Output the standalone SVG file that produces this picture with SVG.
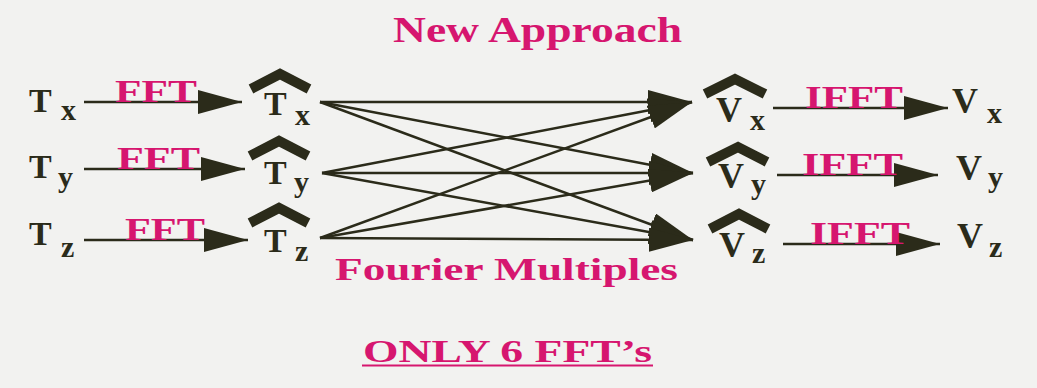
<svg xmlns="http://www.w3.org/2000/svg" width="1037" height="388" viewBox="0 0 1037 388">
<defs>
<style>
.bg{fill:#f2f2f0}
.t{font-family:"Liberation Serif","Times New Roman",serif;font-weight:bold;fill:#2b2b1a}
.big{font-size:34px}
.bigv{font-size:36px}
.sub{font-size:30px}
.pk{font-family:"Liberation Serif","Times New Roman",serif;font-weight:bold;fill:#d6166f}
.ln{stroke:#2b2b1a;stroke-width:2.5;fill:none}
.hat{stroke:#2b2b1a;stroke-width:10;fill:none;stroke-linejoin:miter;stroke-linecap:butt}
</style>
<marker id="ah" markerUnits="userSpaceOnUse" markerWidth="44" markerHeight="24" refX="44" refY="12" orient="auto">
<path d="M0,0 L44,12 L0,24 z" fill="#2b2b1a"/>
</marker>
</defs>
<rect class="bg" x="0" y="0" width="1037" height="388"/>

<g id="titles">
<text class="pk" x="393" y="42" font-size="36" textLength="289" lengthAdjust="spacingAndGlyphs">New Approach</text>
<text class="pk" x="335" y="280" font-size="32" textLength="343" lengthAdjust="spacingAndGlyphs">Fourier Multiples</text>
<text class="pk" x="363" y="362" font-size="32" textLength="289" lengthAdjust="spacingAndGlyphs">ONLY 6 FFT’s</text>
<line x1="362" y1="365.5" x2="653" y2="365.5" stroke="#d6166f" stroke-width="2"/>
</g>

<g id="Tx"><text class="t big" x="29" y="112">T</text><text class="t sub" x="61" y="120">x</text></g>
<g id="Ty"><text class="t big" x="29" y="178">T</text><text class="t sub" x="58" y="187">y</text></g>
<g id="Tz"><text class="t big" x="29" y="245">T</text><text class="t sub" x="61" y="257">z</text></g>

<g id="Tx_hat"><polyline class="hat" points="251,89 280,74 309,89"/><text class="t big" x="264" y="115">T</text><text class="t sub" x="295" y="125">x</text></g>
<g id="Ty_hat"><polyline class="hat" points="250,156 279,141 308,156"/><text class="t big" x="264" y="184">T</text><text class="t sub" x="294" y="192">y</text></g>
<g id="Tz_hat"><polyline class="hat" points="250,223 279,208 308,223"/><text class="t big" x="264" y="252">T</text><text class="t sub" x="295" y="261">z</text></g>

<g id="Vx_hat"><polyline class="hat" points="705,94 735,79 765,94"/><text class="t bigv" x="716" y="122">V</text><text class="t sub" x="750" y="130">x</text></g>
<g id="Vy_hat"><polyline class="hat" points="708,162 738,147 767,162"/><text class="t bigv" x="718" y="188">V</text><text class="t sub" x="751" y="194">y</text></g>
<g id="Vz_hat"><polyline class="hat" points="710,229 739,214 768,229"/><text class="t bigv" x="719" y="257">V</text><text class="t sub" x="752" y="263">z</text></g>

<g id="Vx"><text class="t bigv" x="952" y="113">V</text><text class="t sub" x="987" y="123">x</text></g>
<g id="Vy"><text class="t bigv" x="956" y="180">V</text><text class="t sub" x="988" y="187">y</text></g>
<g id="Vz"><text class="t bigv" x="957" y="248">V</text><text class="t sub" x="989" y="257">z</text></g>

<g id="connectors">
<line class="ln" x1="84" y1="102" x2="242" y2="102" marker-end="url(#ah)"/>
<line class="ln" x1="84" y1="169" x2="245" y2="169" marker-end="url(#ah)"/>
<line class="ln" x1="84" y1="240" x2="248" y2="240" marker-end="url(#ah)"/>

<line class="ln" x1="320" y1="102" x2="692" y2="102" marker-end="url(#ah)"/>
<line class="ln" x1="320" y1="102" x2="693" y2="173" marker-end="url(#ah)"/>
<line class="ln" x1="320" y1="102" x2="693" y2="240" marker-end="url(#ah)"/>
<line class="ln" x1="322" y1="173" x2="692" y2="102" marker-end="url(#ah)"/>
<line class="ln" x1="322" y1="173" x2="693" y2="173" marker-end="url(#ah)"/>
<line class="ln" x1="322" y1="173" x2="693" y2="240" marker-end="url(#ah)"/>
<line class="ln" x1="320" y1="238" x2="692" y2="102" marker-end="url(#ah)"/>
<line class="ln" x1="320" y1="238" x2="693" y2="173" marker-end="url(#ah)"/>
<line class="ln" x1="320" y1="238" x2="693" y2="240" marker-end="url(#ah)"/>

<line class="ln" x1="773" y1="108" x2="948" y2="108" marker-end="url(#ah)"/>
<line class="ln" x1="777" y1="175" x2="938" y2="175" marker-end="url(#ah)"/>
<line class="ln" x1="783" y1="244" x2="940" y2="244" marker-end="url(#ah)"/>

<text class="pk" x="115" y="102" font-size="32" textLength="82" lengthAdjust="spacingAndGlyphs">FFT</text>
<text class="pk" x="117" y="169" font-size="32" textLength="83" lengthAdjust="spacingAndGlyphs">FFT</text>
<text class="pk" x="125" y="240" font-size="32" textLength="80" lengthAdjust="spacingAndGlyphs">FFT</text>
<text class="pk" x="805" y="108" font-size="32" textLength="98" lengthAdjust="spacingAndGlyphs">IFFT</text>
<text class="pk" x="802" y="175" font-size="32" textLength="101" lengthAdjust="spacingAndGlyphs">IFFT</text>
<text class="pk" x="810" y="244" font-size="32" textLength="100" lengthAdjust="spacingAndGlyphs">IFFT</text>
</g>
</svg>
